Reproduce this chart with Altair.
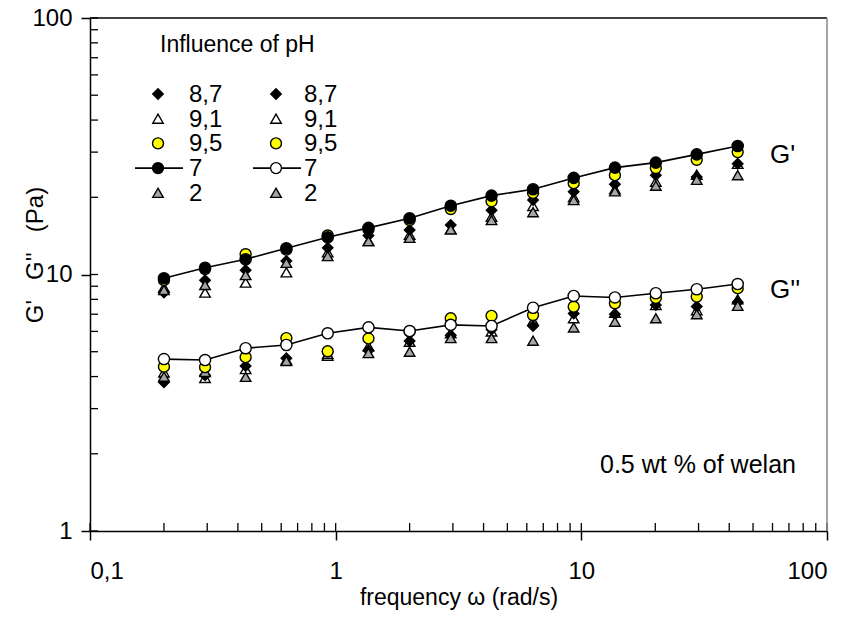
import altair as alt
import pandas as pd

# ---- data ----
freq = [0.2, 0.294, 0.43, 0.63, 0.928, 1.36, 2.0, 2.94, 4.31, 6.36, 9.31, 13.7, 20.1, 29.5, 43.3]

# G' (storage modulus), Pa
gp_ph87 = [8.5, 9.5, 10.4, 11.3, 12.7, 14.2, 14.9, 15.6, 17.8, 19.5, 21.0, 22.5, 24.4, 24.0, 27.0]
gp_ph91 = [8.9, 8.5, 9.3, 10.2, 12.2, 13.5, 14.3, 15.0, 16.8, 18.5, 20.0, 21.5, 23.0, 24.5, 27.0]
gp_ph95 = [9.5, 10.5, 12.0, 12.5, 14.2, 15.0, 16.3, 18.0, 19.3, 20.8, 22.7, 24.4, 26.0, 28.0, 30.0]
gp_ph7 = [9.67, 10.63, 11.47, 12.65, 13.96, 15.2, 16.56, 18.55, 20.3, 21.5, 23.8, 26.1, 27.3, 29.4, 31.7]
gp_ph2 = [8.7, 9.1, 9.95, 11.1, 11.8, 13.5, 13.9, 15.0, 16.3, 17.5, 19.5, 21.1, 22.2, 23.4, 24.4]

# G'' (loss modulus), Pa
gpp_ph87 = [3.8, 4.05, 4.4, 4.72, 5.0, 5.05, 5.5, 5.8, 6.1, 6.3, 7.05, 7.0, 7.6, 7.5, 7.8]
gpp_ph91 = [4.15, 3.95, 4.28, 4.64, 4.82, 5.25, 5.47, 5.9, 6.0, 6.6, 6.75, 7.1, 7.6, 7.26, 8.0]
gpp_ph95 = [4.37, 4.35, 4.76, 5.65, 5.02, 5.63, 6.0, 6.75, 6.9, 6.95, 7.49, 7.72, 8.1, 8.2, 8.84]
gpp_ph7 = [4.68, 4.64, 5.16, 5.31, 5.90, 6.22, 6.02, 6.36, 6.30, 7.42, 8.25, 8.14, 8.45, 8.76, 9.18]
gpp_ph2 = [4.0, 4.17, 3.99, 4.6, 4.9, 4.94, 5.0, 5.65, 5.65, 5.52, 6.22, 6.55, 6.75, 7.0, 7.55]

legend_labels = ["8,7", "9,1", "9,5", "7", "2"]
x_major = [0.1, 1, 10, 100]
y_major = [1, 10, 100]
x_minor = [0.2, 0.3, 0.4, 0.5, 0.6, 0.7, 0.8, 0.9, 2, 3, 4, 5, 6, 7, 8, 9, 20, 30, 40, 50, 60, 70, 80, 90]
y_minor = [2, 3, 4, 5, 6, 7, 8, 9, 20, 30, 40, 50, 60, 70, 80, 90]

# ---- build long table ----
series = [
    ("G'", "8,7", gp_ph87), ("G'", "9,1", gp_ph91), ("G'", "9,5", gp_ph95),
    ("G'", "7", gp_ph7), ("G'", "2", gp_ph2),
    ("G''", "8,7", gpp_ph87), ("G''", "9,1", gpp_ph91), ("G''", "9,5", gpp_ph95),
    ("G''", "7", gpp_ph7), ("G''", "2", gpp_ph2),
]
rows = []
for mod, ph, vals in series:
    for f, v in zip(freq, vals):
        rows.append({"mod": mod, "ph": ph, "freq": f, "G": v})
df = pd.DataFrame(rows)

W, H = 737, 513
FONT = "Liberation Sans"

xscale = alt.Scale(type="log", domain=[0.1, 100], nice=False)
yscale = alt.Scale(type="log", domain=[1, 100], nice=False)

XTITLE = "frequency \u03c9 (rad/s)"
YTITLE = "G'\u00a0\u00a0 G''\u00a0\u00a0 (Pa)"

x_axis = alt.Axis(values=x_major, tickSize=9, tickWidth=1.5, tickColor="black",
                  domainColor="black", domainWidth=1.5, grid=False,
                  labelFontSize=24, labelFont=FONT, labelColor="black", labelPadding=19,
                  labelExpr="replace(format(datum.value, '~g'), '.', ',')",
                  title=XTITLE, titleFont=FONT, titleFontSize=23,
                  titleFontWeight="normal", titleColor="black", titlePadding=3)
y_axis = alt.Axis(values=y_major, tickSize=9, tickWidth=1.5, tickColor="black",
                  domainColor="black", domainWidth=1.5, grid=False,
                  labelFontSize=24, labelFont=FONT, labelColor="black", labelPadding=9,
                  format="~g", title=None)


def X(field):
    return alt.X(field, type="quantitative", scale=xscale, axis=x_axis, title=XTITLE)


def Y(field):
    return alt.Y(field, type="quantitative", scale=yscale, axis=y_axis)


base = alt.Chart(df)


def pts(mod, ph, shape, fill, size):
    return base.transform_filter(
        (alt.datum.mod == mod) & (alt.datum.ph == ph)
    ).mark_point(shape=shape, filled=True, fill=fill, stroke="black",
                 strokeWidth=1.4, size=size, opacity=1).encode(
        x=X("freq"), y=Y("G"))


line7 = base.transform_filter(alt.datum.ph == "7").mark_line(
    color="black", strokeWidth=1.6).encode(
    x=X("freq"), y=Y("G"), detail="mod:N")

layers = [line7]
for mod, fill7 in [("G'", "black"), ("G''", "white")]:
    layers += [
        pts(mod, "9,1", "triangle-up", "white", 110),
        pts(mod, "8,7", "diamond", "black", 110),
        pts(mod, "2", "triangle-up", "#a6a6a6", 110),
        pts(mod, "9,5", "circle", "#ffff00", 120),
        pts(mod, "7", "circle", fill7, 125),
    ]

# inward minor / major ticks
ytick_df = pd.DataFrame({"G": y_minor + y_major})
xtick_df = pd.DataFrame({"freq": x_minor + x_major})
layers.append(alt.Chart(ytick_df).mark_rule(color="black", strokeWidth=1.3).encode(
    y=Y("G"), x=alt.value(0), x2=alt.value(8)))
layers.append(alt.Chart(xtick_df).mark_rule(color="black", strokeWidth=1.3).encode(
    x=X("freq"), y=alt.value(H), y2=alt.value(H - 8)))

# frame: top black, right gray
layers.append(alt.Chart(pd.DataFrame({"a": [0]})).mark_rule(color="black", strokeWidth=1.3).encode(
    x=alt.value(0), x2=alt.value(W), y=alt.value(0)))
layers.append(alt.Chart(pd.DataFrame({"a": [0]})).mark_rule(color="#888888", strokeWidth=1.5).encode(
    x=alt.value(W), y=alt.value(0), y2=alt.value(H)))

# ---- legend (two columns: G' and G'') ----
leg_shapes = ["diamond", "triangle-up", "circle", "circle", "triangle-up"]
leg_fills_1 = ["black", "white", "#ffff00", "black", "#a6a6a6"]
leg_fills_2 = ["black", "white", "#ffff00", "white", "#a6a6a6"]
row_y0, row_dy = 76, 24.7
col_sym = [68, 186]
col_txt = [99, 214]
for c, fills in enumerate([leg_fills_1, leg_fills_2]):
    for i, lab in enumerate(legend_labels):
        yy = row_y0 + i * row_dy
        if lab == "7":
            layers.append(alt.Chart(pd.DataFrame({"a": [0]})).mark_rule(
                color="black", strokeWidth=1.6).encode(
                x=alt.value(col_sym[c] - 23), x2=alt.value(col_sym[c] + 25), y=alt.value(yy)))
        layers.append(alt.Chart(pd.DataFrame({"a": [0]})).mark_point(
            shape=leg_shapes[i], filled=True, fill=fills[i], stroke="black",
            strokeWidth=1.4, size=110 if leg_shapes[i] != "circle" else 120, opacity=1).encode(
            x=alt.value(col_sym[c]), y=alt.value(yy)))
        layers.append(alt.Chart(pd.DataFrame({"t": [lab]})).mark_text(
            font=FONT, fontSize=24, align="left", baseline="middle", color="black").encode(
            x=alt.value(col_txt[c]), y=alt.value(yy + 1), text="t:N"))


def label(txt, x, y, size, angle=0, align="left"):
    return alt.Chart(pd.DataFrame({"t": [txt]})).mark_text(
        font=FONT, fontSize=size, align=align, baseline="middle", color="black",
        angle=angle).encode(
        x=alt.value(x), y=alt.value(y), text="t:N")


layers += [
    label("Influence of pH", 70, 27, 23),
    label("G'", 680, 137, 26),
    label("G''", 680, 272, 26),
    label("0.5 wt % of welan", 510, 447, 25),
    label(YTITLE, -54, 237, 24, angle=270, align="center"),
]

chart = alt.layer(*layers).properties(
    width=W, height=H,
    padding={"left": 90, "top": 18, "right": 27, "bottom": 88},
    autosize=alt.AutoSizeParams(type="none"),
    background="white",
).configure_view(stroke=None)

chart.save("out.html", embed_options={"renderer": "svg", "actions": False})
